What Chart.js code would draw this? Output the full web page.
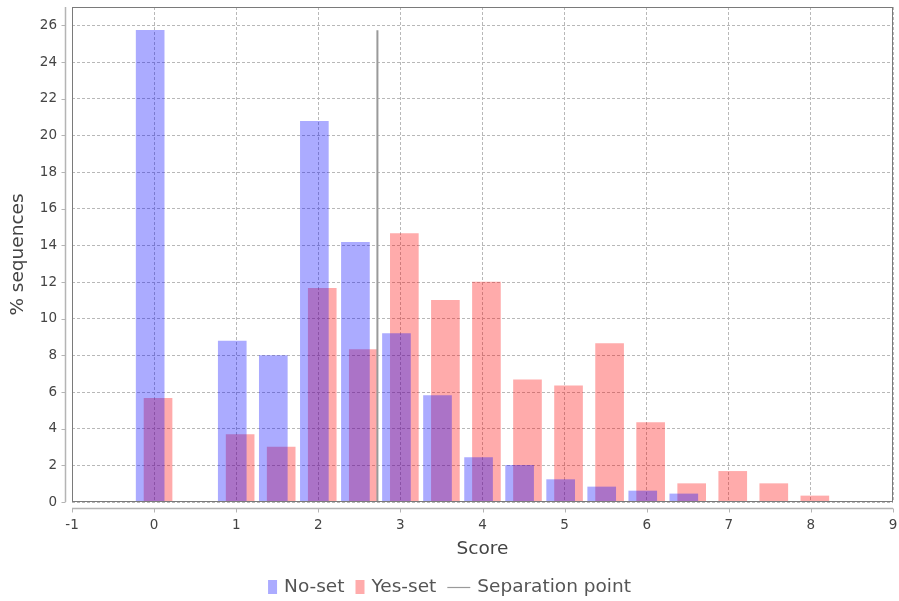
<!DOCTYPE html>
<html>
<head>
<meta charset="utf-8">
<script src="https://cdn.jsdelivr.net/npm/chart.js@4"></script>
<style>
  html, body { margin: 0; padding: 0; background: #ffffff; }
  #wrap { width: 899px; height: 601px; }
</style>
</head>
<body>
<div id="wrap"><canvas id="scoreChart"></canvas></div>
<script>
// Score bins and percentage of sequences per set
const scoreBins = [0, 1, 1.5, 2, 2.5, 3, 3.5, 4, 4.5, 5, 5.5, 6, 6.5, 7, 7.5, 8];
const noSetPct  = [25.73, 8.78, 7.99, 20.77, 14.17, 9.19, 5.80, 2.42, 2.00, 1.22, 0.82, 0.60, 0.44, null, null, null];
const yesSetPct = [5.66, 3.68, 3.00, 11.66, 8.31, 14.64, 11.00, 12.00, 6.66, 6.33, 8.64, 4.33, 1.00, 1.67, 1.00, 0.33];
const separationPoint = 2.72;

// Axis tick values
const xTickValues = [-1, 0, 1, 2, 3, 4, 5, 6, 7, 8, 9];
const yTickValues = [0, 2, 4, 6, 8, 10, 12, 14, 16, 18, 20, 22, 24, 26];

const seriesNames = ['No-set', 'Yes-set', 'Separation point'];

// the two sets sit slightly either side of each bin
const pairShift = 0.048;
const toPoints = (vals, shift) =>
  scoreBins.map((b, i) => ({ x: b + shift, y: vals[i] })).filter(p => p.y !== null);

const sepTop = Math.max(...noSetPct.filter(v => v !== null), ...yesSetPct);

const FONT = "'DejaVu Sans', 'Liberation Sans', sans-serif";
const BLUE = 'rgba(0, 0, 255, 0.33)';
const RED = 'rgba(255, 0, 0, 0.33)';
const SEP = '#9a9a9a';

// scales keep exactly the box they are given, with no extra edge padding
const noEdgePadding = scale => {
  scale.paddingTop = 0;
  scale.paddingBottom = 0;
  scale.paddingLeft = 0;
  scale.paddingRight = 0;
};

// Plot outline plus axis lines set a few pixels away from the plot
const frameAndAxes = {
  id: 'frameAndAxes',
  afterDraw(chart) {
    const { ctx, chartArea: a, scales: { x, y } } = chart;
    ctx.save();
    ctx.strokeStyle = '#7a7a7a';
    ctx.lineWidth = 1;
    ctx.strokeRect(a.left + 0.5, a.top + 0.5, a.right - a.left - 1, a.bottom - a.top - 1);

    const ax = a.left - 6.5;
    const ay = a.bottom + 6.5;
    ctx.strokeStyle = '#b4b4b4';
    ctx.lineWidth = 1.5;
    ctx.beginPath();
    ctx.moveTo(ax, a.top); ctx.lineTo(ax, a.bottom);
    ctx.moveTo(a.left, ay); ctx.lineTo(a.right, ay);
    ctx.stroke();

    ctx.lineWidth = 1;
    ctx.beginPath();
    x.ticks.forEach(t => {
      const px = Math.round(x.getPixelForValue(t.value)) + 0.5;
      ctx.moveTo(px, ay); ctx.lineTo(px, ay + 4);
    });
    y.ticks.forEach(t => {
      const py = Math.round(y.getPixelForValue(t.value)) + 0.5;
      ctx.moveTo(ax - 4, py); ctx.lineTo(ax, py);
    });
    ctx.stroke();
    ctx.restore();
  }
};

// Legend row centred under the chart
const bottomLegend = {
  id: 'bottomLegend',
  afterDraw(chart) {
    const ctx = chart.ctx;
    const items = chart.data.datasets.map(ds => ({
      text: ds.label,
      kind: ds.type === 'line' ? 'line' : 'box',
      color: ds.type === 'line' ? ds.borderColor : ds.backgroundColor
    }));
    ctx.save();
    ctx.font = '18.5px ' + FONT;
    ctx.textBaseline = 'alphabetic';
    const boxW = 9, boxH = 14, lineW = 23, gap = 7, itemGap = 11;
    let total = 0;
    items.forEach((it, i) => {
      it.sw = it.kind === 'line' ? lineW : boxW;
      it.tw = ctx.measureText(it.text).width;
      total += it.sw + gap + it.tw + (i < items.length - 1 ? itemGap : 0);
    });
    let x = chart.width / 2 - total / 2;
    const baseY = 592;
    const midY = 587;
    items.forEach(it => {
      if (it.kind === 'box') {
        ctx.fillStyle = it.color;
        ctx.fillRect(x, midY - boxH / 2, boxW, boxH);
      } else {
        ctx.strokeStyle = it.color;
        ctx.lineWidth = 1.2;
        ctx.beginPath();
        ctx.moveTo(x, midY + 0.5); ctx.lineTo(x + lineW, midY + 0.5);
        ctx.stroke();
      }
      x += it.sw + gap;
      ctx.fillStyle = '#555555';
      ctx.fillText(it.text, x, baseY);
      x += it.tw + itemGap;
    });
    ctx.restore();
  }
};

new Chart(document.getElementById('scoreChart'), {
  type: 'bar',
  data: {
    datasets: [
      {
        label: seriesNames[0],
        data: toPoints(noSetPct, -pairShift),
        backgroundColor: BLUE,
        borderWidth: 0,
        order: 1
      },
      {
        label: seriesNames[1],
        data: toPoints(yesSetPct, pairShift),
        backgroundColor: RED,
        borderWidth: 0,
        order: 2
      },
      {
        type: 'line',
        label: seriesNames[2],
        data: [{ x: separationPoint, y: 0 }, { x: separationPoint, y: sepTop }],
        borderColor: SEP,
        borderWidth: 2,
        pointRadius: 0,
        fill: false,
        order: 0
      }
    ]
  },
  options: {
    responsive: true,
    maintainAspectRatio: false,
    animation: false,
    grouped: false,
    barThickness: 28,
    layout: { padding: { left: 0, top: 7, right: 6, bottom: 0 } },
    plugins: {
      legend: { display: false },
      tooltip: { enabled: false }
    },
    scales: {
      x: {
        type: 'linear',
        min: -1,
        max: 9,
        offset: false,
        afterBuildTicks(scale) { scale.ticks = xTickValues.map(v => ({ value: v })); },
        afterFit(scale) { scale.height = 99; noEdgePadding(scale); },
        grid: { color: '#b8b8b8', lineWidth: 1, drawTicks: false, offset: false },
        border: { display: false, dash: [3, 2] },
        ticks: { padding: 15, color: '#444444', font: { family: FONT, size: 13.5 }, maxRotation: 0 },
        title: {
          display: true,
          text: 'Score',
          color: '#444444',
          font: { family: FONT, size: 18.5 },
          padding: { top: 0, bottom: 41 }
        }
      },
      y: {
        min: 0,
        max: 27,
        afterBuildTicks(scale) { scale.ticks = yTickValues.map(v => ({ value: v })); },
        afterFit(scale) { scale.width = 72; noEdgePadding(scale); },
        grid: { color: '#b8b8b8', lineWidth: 1, drawTicks: false },
        border: { display: false, dash: [3, 2] },
        ticks: { padding: 15, color: '#444444', font: { family: FONT, size: 13.5 } },
        title: {
          display: true,
          text: '% sequences',
          color: '#444444',
          font: { family: FONT, size: 18.5 },
          padding: { top: 7, bottom: 0 }
        }
      }
    }
  },
  plugins: [frameAndAxes, bottomLegend]
});
</script>
</body>
</html>
